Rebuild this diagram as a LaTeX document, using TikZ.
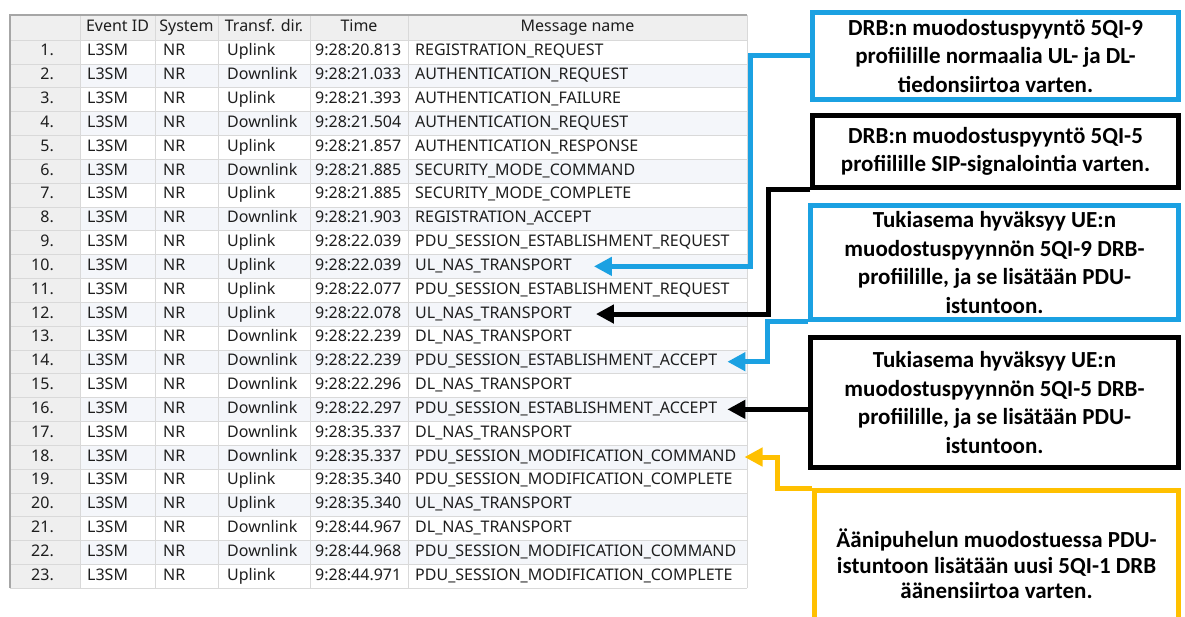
\documentclass[tikz,border=0pt]{standalone}
\usepackage{fontspec}
\setmainfont{Carlito}
\newfontfamily\cellfont{Noto Sans}
\usetikzlibrary{arrows.meta}
\definecolor{qblue}{HTML}{1BA1E2}
\definecolor{qgold}{HTML}{FFC000}
\definecolor{gridgray}{HTML}{D9D9D9}
\definecolor{headgray}{HTML}{EFEFEF}
\definecolor{rowtint}{HTML}{F4F6FA}
\definecolor{celltext}{HTML}{1E1E1E}
\tikzset{
  cell/.style={font=\cellfont\fontsize{16}{18}\selectfont, text=celltext, inner sep=2pt, text height=11.5pt, text depth=3.5pt},
  note/.style={draw, line width=5pt, fill=white, font=\bfseries\fontsize{23}{28.5}\selectfont, align=center, inner sep=0pt},
  pointer/.style={line width=5pt, -{Triangle[length=18pt,width=18pt]}},
}

\begin{document}
\begin{tikzpicture}[x=1pt,y=-1pt]
\useasboundingbox (0,0) rectangle (1185,617);

\fill[white] (10,15) rectangle (747,588);
\fill[headgray] (10,15) rectangle (747,40);
\fill[headgray] (10,40) rectangle (80,588);
\foreach \i in {2,4,...,22} \fill[rowtint] (80,{40+(\i-1)*23.83}) rectangle (747,{40+\i*23.83});
\foreach \i in {0,...,23} \draw[gridgray] (10,{40+\i*23.83}) -- (747,{40+\i*23.83});
\foreach \x in {80,155,218,310,408} \draw[gridgray] (\x,15) -- (\x,588);
\draw[gridgray] (747,15) -- (747,588);
\draw[gray!70, line width=2pt] (10,588) -- (10,15) -- (747,15);

\node[cell] (hid) at (117.5,27.5) {Event ID};
\node[cell] (hsys) at (186.5,27.5) {System};
\node[cell] (hdir) at (264,27.5) {Transf. dir.};
\node[cell] (htime) at (359,27.5) {Time};
\node[cell] (hmsg) at (577.5,27.5) {Message name};

\foreach \i/\dir/\tm/\msg in {
  1/Uplink/9:28:20.813/REGISTRATION\_REQUEST,
  2/Downlink/9:28:21.033/AUTHENTICATION\_REQUEST,
  3/Uplink/9:28:21.393/AUTHENTICATION\_FAILURE,
  4/Downlink/9:28:21.504/AUTHENTICATION\_REQUEST,
  5/Uplink/9:28:21.857/AUTHENTICATION\_RESPONSE,
  6/Downlink/9:28:21.885/SECURITY\_MODE\_COMMAND,
  7/Uplink/9:28:21.885/SECURITY\_MODE\_COMPLETE,
  8/Downlink/9:28:21.903/REGISTRATION\_ACCEPT,
  9/Uplink/9:28:22.039/PDU\_SESSION\_ESTABLISHMENT\_REQUEST,
  10/Uplink/9:28:22.039/UL\_NAS\_TRANSPORT,
  11/Uplink/9:28:22.077/PDU\_SESSION\_ESTABLISHMENT\_REQUEST,
  12/Uplink/9:28:22.078/UL\_NAS\_TRANSPORT,
  13/Downlink/9:28:22.239/DL\_NAS\_TRANSPORT,
  14/Downlink/9:28:22.239/PDU\_SESSION\_ESTABLISHMENT\_ACCEPT,
  15/Downlink/9:28:22.296/DL\_NAS\_TRANSPORT,
  16/Downlink/9:28:22.297/PDU\_SESSION\_ESTABLISHMENT\_ACCEPT,
  17/Downlink/9:28:35.337/DL\_NAS\_TRANSPORT,
  18/Downlink/9:28:35.337/PDU\_SESSION\_MODIFICATION\_COMMAND,
  19/Uplink/9:28:35.340/PDU\_SESSION\_MODIFICATION\_COMPLETE,
  20/Uplink/9:28:35.340/UL\_NAS\_TRANSPORT,
  21/Downlink/9:28:44.967/DL\_NAS\_TRANSPORT,
  22/Downlink/9:28:44.968/PDU\_SESSION\_MODIFICATION\_COMMAND,
  23/Uplink/9:28:44.971/PDU\_SESSION\_MODIFICATION\_COMPLETE}
{
  \pgfmathsetmacro\yy{40+(\i-0.5)*23.83}
  \node[cell, anchor=east] (n\i) at (56,\yy) {\i.};
  \node[cell, anchor=west] (e\i) at (85,\yy) {L3SM};
  \node[cell, anchor=west] (s\i) at (161,\yy) {NR};
  \node[cell, anchor=west] (d\i) at (225,\yy) {\dir};
  \node[cell, anchor=west] (t\i) at (313,\yy) {\tm};
  \node[cell, anchor=west] (m\i) at (413,\yy) {\msg};
}

\node[note, draw=qblue, minimum width=366pt, minimum height=87pt] (dq9) at (995.5,56)
  {DRB:n muodostuspyyntö 5QI-9\\profiilille normaalia UL- ja DL-\\tiedonsiirtoa varten.};
\node[note, minimum width=366pt, minimum height=72pt] (dq5) at (995.5,151.5)
  {DRB:n muodostuspyyntö 5QI-5\\profiilille SIP-signalointia varten.};
\node[note, draw=qblue, minimum width=368pt, minimum height=114pt] (ack9) at (994.5,262.5)
  {Tukiasema hyväksyy UE:n\\muodostuspyynnön 5QI-9 DRB-\\profiilille, ja se lisätään PDU-\\istuntoon.};
\node[note, minimum width=368pt, minimum height=130pt] (ack5) at (994.5,402.5)
  {Tukiasema hyväksyy UE:n\\muodostuspyynnön 5QI-5 DRB-\\profiilille, ja se lisätään PDU-\\istuntoon.};
\node[note, draw=qgold, minimum width=364pt, minimum height=147pt, font=\bfseries\fontsize{23}{25.5}\selectfont] (voice) at (996.5,564)
  {Äänipuhelun muodostuessa PDU-\\istuntoon lisätään uusi 5QI-1 DRB\\äänensiirtoa varten.};

\draw[pointer, qblue] (dq9.west) -- ++(-60,0) |- ([xshift=20pt]m10.east);
\draw[pointer] (dq5.south west) -- ++(-42,0) |- ([xshift=22pt]m12.east);
\draw[pointer, qblue] (ack9.south west) -- ++(-41,0) |- ([xshift=8pt]m14.east);
\draw[pointer] (ack5.west |- m16.east) -- ([xshift=8pt]m16.east);
\draw[pointer, qgold] (voice.north west) -- ++(-35,0) |- ([xshift=6pt]m18.east);
\end{tikzpicture}
\end{document}
